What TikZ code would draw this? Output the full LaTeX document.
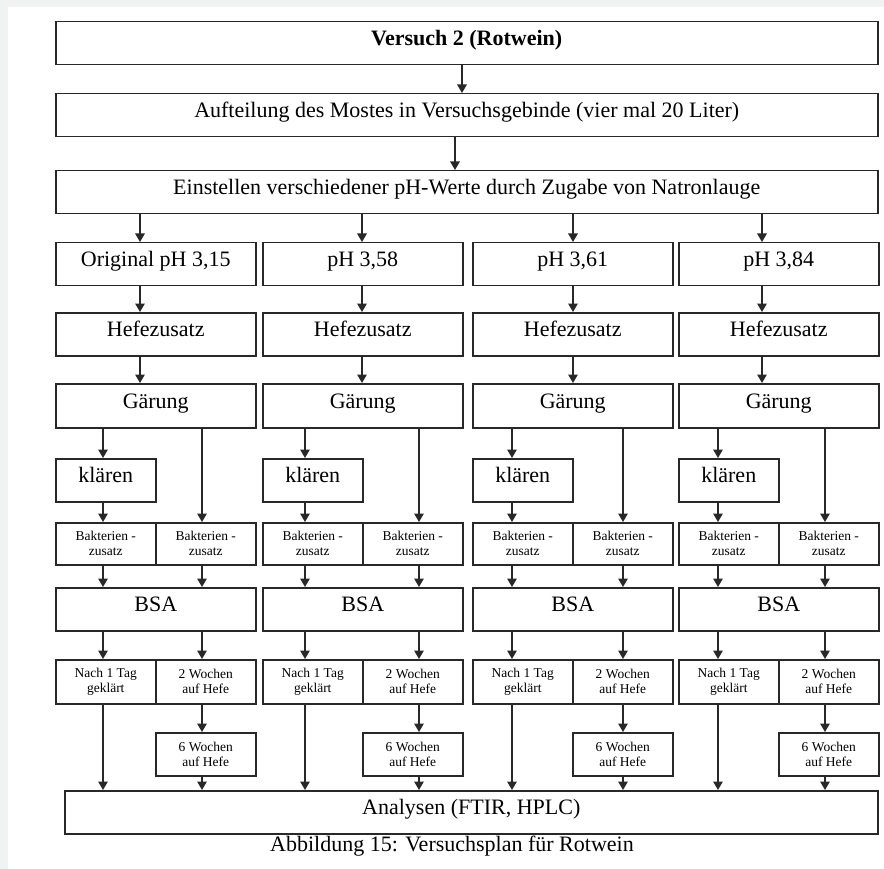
\documentclass[tikz,border=0pt]{standalone}
\usepackage{fontspec}
\setmainfont{Liberation Serif}
\usetikzlibrary{arrows.meta,positioning,calc}

\definecolor{pagegray}{RGB}{241,242,242}
\definecolor{linegray}{RGB}{40,40,40}

\begin{document}
\begin{tikzpicture}[
    x=1pt, y=-1pt,
    font=\fontsize{22}{24}\selectfont,
    box/.style={draw=linegray, line width=1.5pt, inner sep=0pt, align=center, anchor=north west,
      minimum height=43pt, text height=14.5pt, text depth=10pt},
    wide/.style={box, minimum width=822pt},
    col/.style={box, minimum width=200pt},
    half/.style={box, minimum width=100pt},
    tiny/.style={font=\fontsize{13.5}{15}\selectfont, text height=, text depth=, minimum height=42pt},
    note/.style={font=\fontsize{13.5}{15}\selectfont, text height=, text depth=, minimum height=44pt},
    arr/.style={-{Triangle[length=8.5pt, width=9.5pt]}, line width=1.5pt, draw=linegray},
  ]
    \useasboundingbox (0,0) rectangle (884,869);
    \fill[pagegray] (0,0) rectangle (884,869);
    \fill[white] (8,7) rectangle (884,869);

    \node[wide] (vers) at (55,21) {\textbf{Versuch 2 (Rotwein)}};
    \node[wide] (aufteil) at (55,93) {Aufteilung des Mostes in Versuchsgebinde (vier mal 20 Liter)};
    \node[wide] (einst) at (55,170) {Einstellen verschiedener pH-Werte durch Zugabe von Natronlauge};
    \node[box, minimum width=813pt] (analyse) at (64,790) {Analysen (FTIR, HPLC)};
    \node[font=\fontsize{22}{24}\selectfont] (caption) at (452,846) {Abbildung 15: Versuchsplan für Rotwein};

    \coordinate (t1) at (462,0);
    \coordinate (t2) at (455,0);
    \draw[arr] (vers.south -| t1) -- (aufteil.north -| t1);
    \draw[arr] (aufteil.south -| t2) -- (einst.north -| t2);

    % one column per pH value
    \foreach \i/\L/\a/\l/\r/\ph in {1/55/140/103/202/{Original pH 3,15},
        2/262/362/305/419/{pH 3,58}, 3/472/573/512/623/{pH 3,61}, 4/678/762/718/825/{pH 3,84}} {
      \coordinate (a\i) at (\a,0);
      \coordinate (l\i) at (\l,0);
      \coordinate (r\i) at (\r,0);

      \node[col] (ph\i) at (\L,242) {\ph};
      \node[col] (hefe\i) at (\L,312) {Hefezusatz};
      \node[col, minimum height=44pt] (gaer\i) at (\L,383) {Gärung};
      \node[half] (klaer\i) at (\L,458) {klären};
      \node[half, tiny] (bakl\i) at (\L,522) {Bakterien -\\zusatz};
      \node[half, tiny] (bakr\i) at (\L+100,522) {Bakterien -\\zusatz};
      \node[col] (bsa\i) at (\L,587) {BSA};
      \node[half, note] (nach\i) at (\L,659) {Nach 1 Tag\\geklärt};
      \node[half, note] (zwei\i) at (\L+100,659) {2 Wochen\\auf Hefe};
      \node[half, note, minimum height=43pt] (sechs\i) at (\L+100,732) {6 Wochen\\auf Hefe};

      \draw[arr] (einst.south -| a\i) -- (ph\i.north -| a\i);
      \draw[arr] (ph\i.south -| a\i) -- (hefe\i.north -| a\i);
      \draw[arr] (hefe\i.south -| a\i) -- (gaer\i.north -| a\i);
      \draw[arr] (gaer\i.south -| l\i) -- (klaer\i.north -| l\i);
      \draw[arr] (klaer\i.south -| l\i) -- (bakl\i.north -| l\i);
      \draw[arr] (gaer\i.south -| r\i) -- (bakr\i.north -| r\i);
      \draw[arr] (bakl\i.south -| l\i) -- (bsa\i.north -| l\i);
      \draw[arr] (bakr\i.south -| r\i) -- (bsa\i.north -| r\i);
      \draw[arr] (bsa\i.south -| l\i) -- (nach\i.north -| l\i);
      \draw[arr] (bsa\i.south -| r\i) -- (zwei\i.north -| r\i);
      \draw[arr] (zwei\i.south -| r\i) -- (sechs\i.north -| r\i);
      \draw[arr] (nach\i.south -| l\i) -- (analyse.north -| l\i);
      \draw[arr] (sechs\i.south -| r\i) -- (analyse.north -| r\i);
    }
  \end{tikzpicture}
\end{document}
